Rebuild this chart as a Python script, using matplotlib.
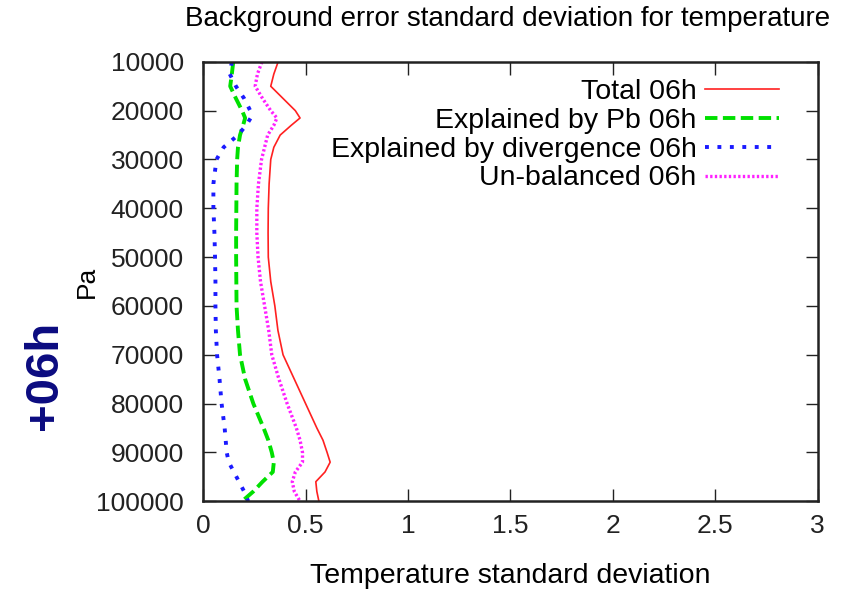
import matplotlib
matplotlib.use("Agg")
import matplotlib.pyplot as plt

# pressure levels (Pa)
pressure = [10000, 12500, 15000, 17500, 20000, 21500, 23000, 25000, 27500,
            30000, 35000, 40000, 45000, 50000, 55000, 60000, 65000, 70000,
            75000, 80000, 85000, 87500, 90000, 92000, 94000, 96000, 98000,
            100000]

total = [0.366, 0.345, 0.33, 0.39, 0.45, 0.473, 0.43, 0.376, 0.345, 0.33,
         0.322, 0.318, 0.317, 0.318, 0.33, 0.35, 0.365, 0.39, 0.445, 0.50,
         0.555, 0.585, 0.605, 0.62, 0.595, 0.55, 0.555, 0.565]
explained_pb = [0.147, 0.14, 0.132, 0.16, 0.19, 0.205, 0.195, 0.18, 0.17,
                0.166, 0.163, 0.162, 0.161, 0.161, 0.162, 0.163, 0.17, 0.18,
                0.205, 0.245, 0.295, 0.318, 0.335, 0.345, 0.34, 0.29, 0.245,
                0.19]
explained_div = [0.14, 0.13, 0.16, 0.2, 0.23, 0.232, 0.21, 0.17, 0.10,
                 0.065, 0.05, 0.05, 0.055, 0.058, 0.06, 0.06, 0.062, 0.068,
                 0.08, 0.09, 0.105, 0.11, 0.115, 0.125, 0.15, 0.175, 0.2,
                 0.22]
unbalanced = [0.287, 0.265, 0.254, 0.29, 0.33, 0.36, 0.345, 0.315, 0.3,
              0.285, 0.27, 0.262, 0.262, 0.268, 0.28, 0.30, 0.32, 0.335,
              0.37, 0.41, 0.455, 0.473, 0.485, 0.485, 0.45, 0.435, 0.445,
              0.473]

x_ticks = [0, 0.5, 1, 1.5, 2, 2.5, 3]
x_tick_labels = ["0", "0.5", "1", "1.5", "2", "2.5", "3"]
y_ticks = list(range(10000, 100001, 10000))

plt.rcParams["font.family"] = ["Liberation Sans", "DejaVu Sans"]

fig = plt.figure(figsize=(8.5, 5.89), dpi=100)
ax = fig.add_axes([0.239, 0.149, 0.723, 0.746])

ax.plot(total, pressure, color="#ff2020", lw=1.2, label="Total 06h")
ax.plot(explained_pb, pressure, color="#00e000", lw=2.8,
        dashes=(3.2, 1.4), label="Explained by Pb 06h")
ax.plot(explained_div, pressure, color="#1a1aff", lw=2.8,
        dashes=(1, 2.2), label="Explained by divergence 06h")
ax.plot(unbalanced, pressure, color="#ff20ff", lw=2.4,
        dashes=(0.7, 0.7), label="Un-balanced 06h")

ax.set_xlim(0, 3)
ax.set_ylim(100000, 10000)
ax.set_xticks(x_ticks)
ax.set_xticklabels(x_tick_labels)
ax.set_yticks(y_ticks)
ax.tick_params(direction="in", length=9, width=1.0, top=True, right=True,
               labelsize=19, colors="#222222")
ax.tick_params(axis="x", pad=9)
ax.tick_params(axis="y", pad=14)
for spine in ax.spines.values():
    spine.set_linewidth(1.8)
    spine.set_color("#222222")

ax.set_title("Background error standard deviation for temperature",
             fontsize=20, pad=26, loc="right", x=1.02)
ax.set_xlabel("Temperature standard deviation", fontsize=20.5, labelpad=18)
ax.set_ylabel("Pa", fontsize=19)
ax.yaxis.set_label_coords(-0.17, 0.5)

ax.legend(loc="upper right", frameon=False, fontsize=20.5, markerfirst=False,
          handlelength=2.6, labelspacing=0.1, borderaxespad=0.2,
          handletextpad=0.3, bbox_to_anchor=(0.965, 1.0))

fig.text(0.053, 0.363, "+06h", rotation=90, ha="center", va="center",
         fontsize=34, fontweight="bold", color="#0b0b80")

fig.savefig("out.png", dpi=100)
